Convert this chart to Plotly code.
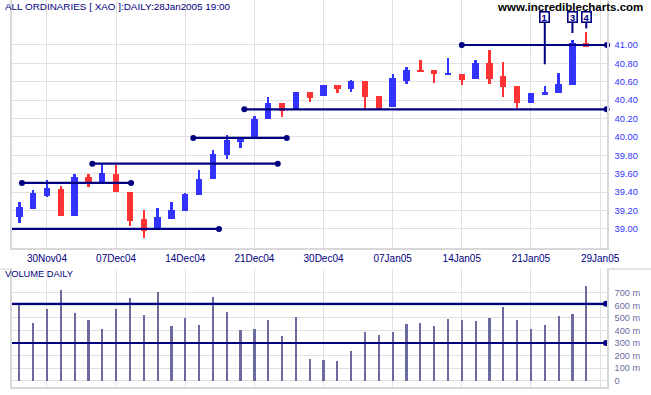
import plotly.graph_objects as go

# ---------------- data ----------------
day_idx = list(range(42))
opens = [39.13, 39.22, 39.36, 39.43, 39.14, 39.56, 39.51, 39.60, 39.40, 39.11,
         39.00, 39.11, 39.20, 39.37, 39.54, 39.80, 39.94, 39.99, 40.19, 40.37,
         40.30, 40.49, 40.44, 40.57, 40.52, 40.61, 40.44, 40.33, 40.61, 40.73,
         40.73, 40.67, 40.69, 40.63, 40.80, 40.66, 40.55, 40.37, 40.46, 40.48,
         40.57, 41.02]
highs = [39.29, 39.42, 39.53, 39.47, 39.60, 39.60, 39.71, 39.70, 39.40, 39.21,
         39.23, 39.29, 39.39, 39.64, 39.86, 40.02, 39.99, 40.23, 40.43, 40.37,
         40.49, 40.49, 40.57, 40.57, 40.62, 40.61, 40.44, 40.69, 40.76, 40.84,
         40.73, 40.86, 40.69, 40.84, 40.95, 40.82, 40.55, 40.48, 40.55, 40.70,
         41.05, 41.14]
lows = [39.07, 39.22, 39.35, 39.14, 39.14, 39.46, 39.51, 39.40, 39.03, 38.90,
        39.00, 39.11, 39.20, 39.37, 39.54, 39.76, 39.88, 39.99, 40.19, 40.22,
        40.30, 40.38, 40.44, 40.48, 40.49, 40.30, 40.30, 40.33, 40.58, 40.71,
        40.59, 40.67, 40.56, 40.63, 40.58, 40.43, 40.32, 40.37, 40.46, 40.48,
        40.57, 40.98]
closes = [39.24, 39.39, 39.44, 39.14, 39.56, 39.50, 39.61, 39.40, 39.09, 38.98,
          39.13, 39.21, 39.38, 39.54, 39.82, 39.97, 39.99, 40.19, 40.37, 40.28,
          40.49, 40.42, 40.57, 40.52, 40.61, 40.43, 40.30, 40.64, 40.73, 40.71,
          40.68, 40.70, 40.62, 40.80, 40.63, 40.54, 40.37, 40.48, 40.49, 40.58,
          41.02, 40.98]
volumes_m = [619, 460, 569, 720, 540, 481, 410, 569, 659, 521,
             704, 434, 497, 442, 664, 545, 402, 410, 481, 354,
             505, 172, 164, 156, 235, 386, 362, 386, 450, 458,
             434, 489, 481, 474, 497, 585, 481, 410, 442, 513,
             529, 751]

date_tickvals = [2, 7, 12, 17, 22, 27, 32, 37, 42]
date_ticktext = ["30Nov04", "07Dec04", "14Dec04", "21Dec04", "30Dec04",
                 "07Jan05", "14Jan05", "21Jan05", "29Jan05"]
price_tickvals = [39.0, 39.2, 39.4, 39.6, 39.8, 40.0, 40.2, 40.4, 40.6, 40.8, 41.0]
price_ticktext = ["39.00", "39.20", "39.40", "39.60", "39.80", "40.00",
                  "40.20", "40.40", "40.60", "40.80", "41.00"]
vol_tickvals = [0, 100, 200, 300, 400, 500, 600, 700]
vol_ticktext = ["0", "100 m", "200 m", "300 m", "400 m", "500 m", "600 m", "700 m"]

# support / resistance lines (price panel)
sr_levels = [39.00, 39.50, 39.71, 39.99, 40.30, 41.00]
sr_start = [-1.4, 0.19, 5.28, 12.58, 16.27, 32.0]
sr_end = [14.44, 8.08, 18.69, 19.34, 42.47, 42.5]
sr_left_dot = [False, True, True, True, True, True]

# volume reference lines
vol_levels = [612, 300]
vol_start = [-1.4, -1.4]
vol_end = [42.43, 42.43]

# wave labels
wave_labels = ["1", "3", "4"]
wave_x = [38, 40, 41]
wave_tip = [40.79, 41.13, 41.18]

# ---------------- styles ----------------
BLUE = "#3333ff"
RED = "#ff3333"
NAVY = "#000080"
VOLC = "#6b6b9f"
GRID = "#e0e0e0"
FONT = "Liberation Sans, Arial, sans-serif"

fig = go.Figure()

colors = [BLUE if c >= o else RED for o, c in zip(opens, closes)]
body_base = [min(o, c) for o, c in zip(opens, closes)]
body_h = [max(abs(c - o), 0.015) for o, c in zip(opens, closes)]
wick_h = [h - l for h, l in zip(highs, lows)]

fig.add_trace(go.Bar(x=day_idx, y=wick_h, base=lows, width=0.17,
                     marker=dict(color=colors, line=dict(width=0)),
                     xaxis="x", yaxis="y", showlegend=False))
fig.add_trace(go.Bar(x=day_idx, y=body_h, base=body_base, width=0.46,
                     marker=dict(color=colors, line=dict(width=0)),
                     xaxis="x", yaxis="y", showlegend=False))

dot_x, dot_y = [], []
for lvl, x0, x1, ld in zip(sr_levels, sr_start, sr_end, sr_left_dot):
    fig.add_trace(go.Scatter(x=[x0, x1], y=[lvl, lvl], mode="lines",
                             line=dict(color=NAVY, width=2.2),
                             xaxis="x", yaxis="y", showlegend=False))
    if ld:
        dot_x.append(x0); dot_y.append(lvl)
    dot_x.append(x1); dot_y.append(lvl)
fig.add_trace(go.Scatter(x=dot_x, y=dot_y, mode="markers",
                         marker=dict(color=NAVY, size=6), cliponaxis=False,
                         xaxis="x", yaxis="y", showlegend=False))

for wx, wt in zip(wave_x, wave_tip):
    fig.add_trace(go.Scatter(x=[wx, wx], y=[41.26, wt], mode="lines",
                             line=dict(color=NAVY, width=2),
                             xaxis="x", yaxis="y", showlegend=False))

annotations = []
for lab, wx in zip(wave_labels, wave_x):
    annotations.append(dict(x=wx, y=41.30, xref="x", yref="y", text="<b>%s</b>" % lab,
                            showarrow=False, font=dict(family=FONT, size=9.5, color=NAVY),
                            bgcolor="white", bordercolor=NAVY, borderwidth=1.6,
                            borderpad=0, width=8, height=9))

# volume
fig.add_trace(go.Bar(x=day_idx, y=volumes_m, width=0.16,
                     marker=dict(color=VOLC, line=dict(width=0)),
                     xaxis="x2", yaxis="y2", showlegend=False))
vdx, vdy = [], []
for lvl, x0, x1 in zip(vol_levels, vol_start, vol_end):
    fig.add_trace(go.Scatter(x=[x0, x1], y=[lvl, lvl], mode="lines",
                             line=dict(color=NAVY, width=2.2),
                             xaxis="x2", yaxis="y2", showlegend=False))
    vdx.append(x1); vdy.append(lvl)
fig.add_trace(go.Scatter(x=vdx, y=vdy, mode="markers",
                         marker=dict(color=NAVY, size=6), cliponaxis=False,
                         xaxis="x2", yaxis="y2", showlegend=False))

annotations += [
    dict(x=-0.0151, y=0.982, xref="paper", yref="paper", xanchor="left", yanchor="middle",
         text="ALL ORDINARIES [ XAO ]:DAILY:28Jan2005 19:00", showarrow=False,
         font=dict(family=FONT, size=9.9, color=NAVY)),
    dict(x=1.0639, y=0.982, xref="paper", yref="paper", xanchor="right", yanchor="middle",
         text="<b>www.incrediblecharts.com</b>", showarrow=False,
         font=dict(family=FONT, size=11.5, color="black")),
    dict(x=-0.0151, y=0.292, xref="paper", yref="paper", xanchor="left", yanchor="middle",
         text="VOLUME DAILY", showarrow=False,
         font=dict(family=FONT, size=9.3, color=NAVY)),
]

shapes = [
    dict(type="line", xref="paper", yref="paper", x0=-0.03, x1=0, y0=0.3049, y1=0.3049,
         line=dict(color="#d0d0d0", width=1)),
    dict(type="line", xref="paper", yref="paper", x0=1.0, x1=1.08, y0=0.3049, y1=0.3049,
         line=dict(color="#c8c8c0", width=1)),
]

xrange = [-0.53, 42.5]
fig.update_layout(
    width=651, height=395,
    margin=dict(l=12, r=44, t=0, b=8, autoexpand=False),
    paper_bgcolor="white", plot_bgcolor="white",
    barmode="overlay", bargap=0,
    showlegend=False,
    annotations=annotations, shapes=shapes,
    xaxis=dict(domain=[0, 1], range=xrange, anchor="y",
               tickvals=date_tickvals, ticktext=date_ticktext,
               tickfont=dict(family=FONT, size=10, color=NAVY),
               showgrid=True, gridcolor=GRID, gridwidth=1,
               showline=True, linecolor="#d8d8d8", linewidth=1.5,
               ticks="", zeroline=False, fixedrange=True, automargin=False),
    yaxis=dict(domain=[0.3592, 1], range=[38.793, 41.489], anchor="x", side="right",
               tickvals=price_tickvals, ticktext=price_ticktext,
               tickfont=dict(family=FONT, size=9.3, color=BLUE),
               showgrid=True, gridcolor=GRID, gridwidth=1,
               showline=True, mirror=True, linecolor="#d8d8d8", linewidth=1.5,
               ticks="outside", ticklen=4, tickcolor="rgba(0,0,0,0)",
               zeroline=False, automargin=False),
    xaxis2=dict(domain=[0, 1], range=xrange, anchor="y2", matches="x",
                tickvals=date_tickvals, showticklabels=False,
                showgrid=True, gridcolor=GRID, gridwidth=1,
                showline=True, linecolor="#d8d8d8", linewidth=1.5,
                ticks="", zeroline=False, automargin=False),
    yaxis2=dict(domain=[0, 0.3049], range=[-50, 889], anchor="x2", side="right",
                tickvals=vol_tickvals, ticktext=vol_ticktext,
                tickfont=dict(family=FONT, size=9.2, color=VOLC),
                showgrid=True, gridcolor=GRID, gridwidth=1,
                showline=True, mirror=True, linecolor="#d8d8d8", linewidth=1.5,
                ticks="outside", ticklen=4, tickcolor="rgba(0,0,0,0)",
                zeroline=False, automargin=False),
)

fig.write_html("out.html", config={"displayModeBar": False},
               post_script="document.body.style.margin='0';")
